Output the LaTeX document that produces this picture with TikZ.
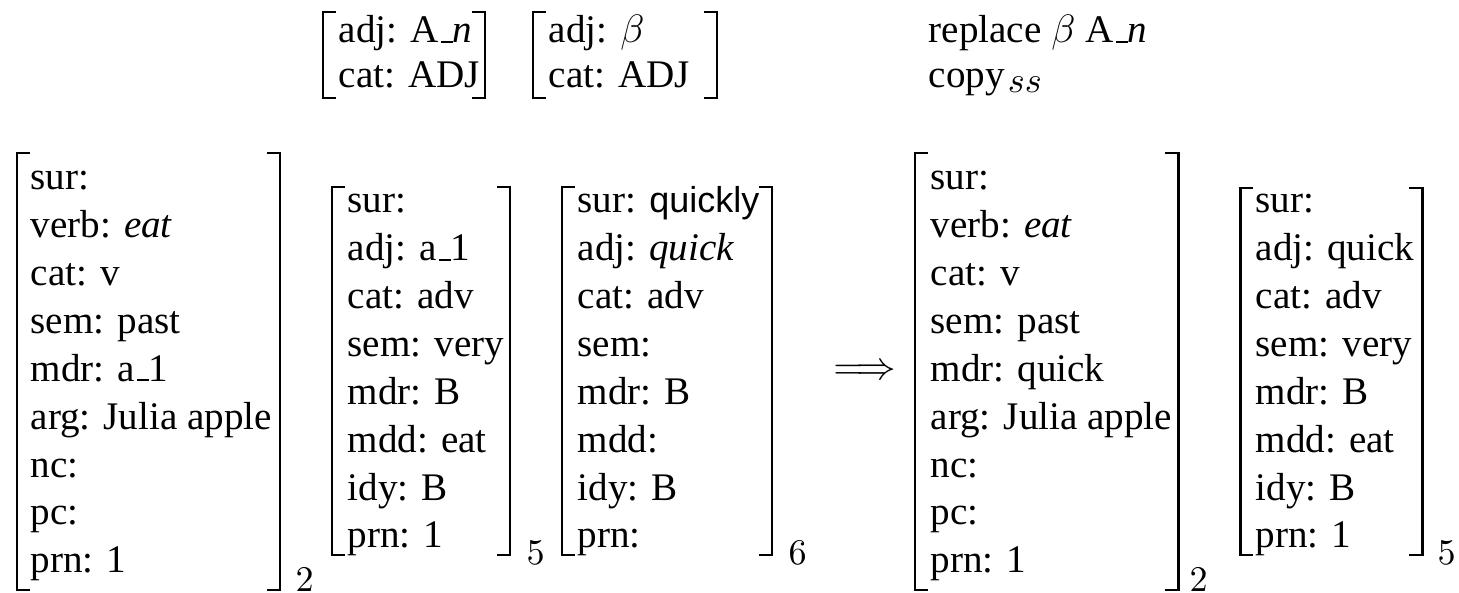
\documentclass[tikz,border=0pt]{standalone}
\usepackage{fontspec}
\setmainfont{Liberation Serif}
\newfontfamily\helv[Scale=0.92]{Liberation Sans}
% low rule used as the underscore in attribute values
\newcommand{\usc}{\leavevmode\kern.06em\vbox{\hrule width.3em height .65pt}}

\begin{document}
\begin{tikzpicture}[x=0.30303pt,y=-0.30303pt,
  avm/.style={anchor=base west, inner sep=0pt, font=\fontsize{11.85}{14.5}\selectfont},
  brk/.style={line width=0.9pt, line join=miter},
  idx/.style={anchor=base west, inner sep=0pt, font=\fontsize{10.5}{12}\selectfont}]
\useasboundingbox (0,0) rectangle (1459,593);

% ---- top row: pattern and operations
\node[avm] (p1) at (338,43) {\def\arraystretch{0.92}\begin{tabular}[t]{@{}l@{}}adj: A\usc\textit{n}\\ cat: ADJ\end{tabular}};
\draw[brk] (336,12) -- (323,12) -- (323,98) -- (336,98);
\draw[brk] (472,12) -- (485,12) -- (485,98) -- (472,98);

\node[avm] (p2) at (548,43) {\def\arraystretch{0.92}\begin{tabular}[t]{@{}l@{}}adj: $\beta$\\ cat: ADJ\end{tabular}};
\draw[brk] (546,12) -- (533,12) -- (533,98) -- (546,98);
\draw[brk] (704,12) -- (717,12) -- (717,98) -- (704,98);

\node[avm] (ops) at (928,43) {\def\arraystretch{0.92}\begin{tabular}[t]{@{}l@{}}replace $\beta$ A\usc\textit{n}\\ copy\kern1pt\raisebox{-1.6pt}{\fontsize{10.5}{12}\selectfont$ss$}\end{tabular}};

% ---- input proplets
\node[avm] (a1) at (30,190) {\begin{tabular}[t]{@{}l@{}}sur:\\ verb: \textit{eat}\\ cat: v\\ sem: past\\ mdr: a\usc 1\\ arg: Julia apple\\ nc:\\ pc:\\ prn: 1\end{tabular}};
\draw[brk] (30,153) -- (17,153) -- (17,590) -- (30,590);
\draw[brk] (267,153) -- (280,153) -- (280,590) -- (267,590);
\node[idx] (i1) at (295,591) {$2$};

\node[avm] (a2) at (347,213) {\begin{tabular}[t]{@{}l@{}}sur:\\ adj: a\usc 1\\ cat: adv\\ sem: very\\ mdr: B\\ mdd: eat\\ idy: B\\ prn: 1\end{tabular}};
\draw[brk] (345,187) -- (332,187) -- (332,555) -- (345,555);
\draw[brk] (497,187) -- (510,187) -- (510,555) -- (497,555);
\node[idx] (i2) at (526,564) {$5$};

\node[avm] (a3) at (577,213) {\begin{tabular}[t]{@{}l@{}}sur: {\helv quickly}\\ adj: \textit{quick}\\ cat: adv\\ sem:\\ mdr: B\\ mdd:\\ idy: B\\ prn:\end{tabular}};
\draw[brk] (575,187) -- (562,187) -- (562,555) -- (575,555);
\draw[brk] (759,187) -- (772,187) -- (772,555) -- (759,555);
\node[idx] (i3) at (788,564) {$6$};

% ---- rule application
\node[inner sep=0pt, font=\fontsize{12}{14.5}\selectfont] (arr) at (865,372) {$\Longrightarrow$};

% ---- output proplets
\node[avm] (b1) at (930,190) {\begin{tabular}[t]{@{}l@{}}sur:\\ verb: \textit{eat}\\ cat: v\\ sem: past\\ mdr: quick\\ arg: Julia apple\\ nc:\\ pc:\\ prn: 1\end{tabular}};
\draw[brk] (928,153) -- (915,153) -- (915,590) -- (928,590);
\draw[brk] (1165,153) -- (1178,153) -- (1178,590) -- (1165,590);
\node[idx] (j1) at (1189,591) {$2$};

\node[avm] (b2) at (1255,213) {\begin{tabular}[t]{@{}l@{}}sur:\\ adj: quick\\ cat: adv\\ sem: very\\ mdr: B\\ mdd: eat\\ idy: B\\ prn: 1\end{tabular}};
\draw[brk] (1253,188) -- (1240,188) -- (1240,555) -- (1253,555);
\draw[brk] (1409,188) -- (1422,188) -- (1422,555) -- (1409,555);
\node[idx] (j2) at (1437,564) {$5$};
\end{tikzpicture}
\end{document}
